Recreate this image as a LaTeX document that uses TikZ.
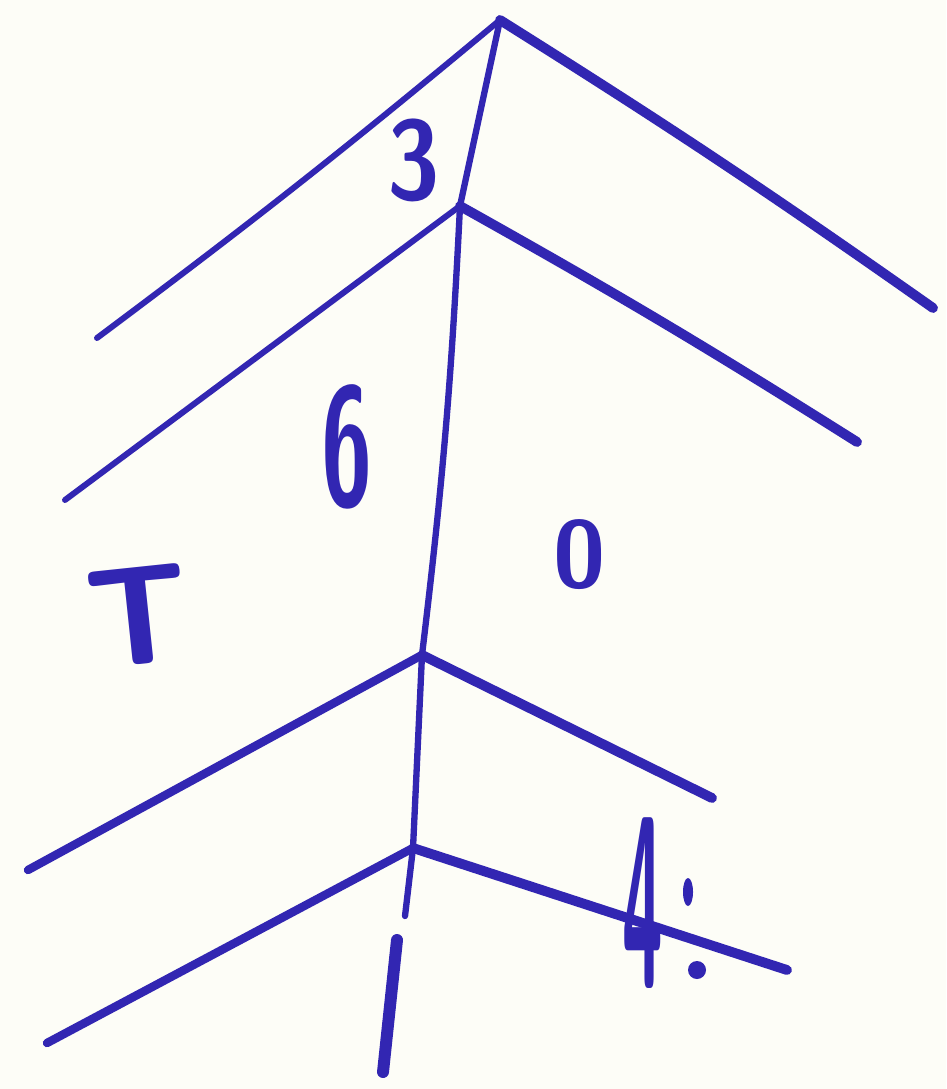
\documentclass[tikz,border=0pt]{standalone}
\usepackage{tikz}
\usetikzlibrary{positioning, calc}
\definecolor{inkblue}{RGB}{50, 38, 178}
\definecolor{paper}{RGB}{253, 253, 247}

\begin{document}
\begin{tikzpicture}[
    x=0.01cm, y=-0.01cm,
    spine/.style={draw=inkblue, line width=1.8pt, line cap=round, line join=round},
    thinbranch/.style={draw=inkblue, line width=1.7pt, line cap=round},
    branch/.style={draw=inkblue, line width=2.4pt, line cap=round},
    heavybranch/.style={draw=inkblue, line width=2.8pt, line cap=round},
    digit/.style={text=inkblue, font=\sffamily\bfseries, inner sep=0pt}
    ]
    \useasboundingbox[fill=paper] (0,0) rectangle (946,1089);

    % Spine points
    \coordinate (apex) at (500,20);
    \coordinate (j3) at (460,206);
    \coordinate (j6) at (422,655);
    \coordinate (j4) at (413,848);
    \coordinate (gaptop) at (405,916);
    \coordinate (gapbot) at (397,940);
    \coordinate (foot) at (383,1072);

    % Branch ends
    \coordinate (ul) at (97,338);
    \coordinate (ur) at (933,308);
    \coordinate (l3) at (65,500);
    \coordinate (r3) at (857,442);
    \coordinate (l6) at (28,870);
    \coordinate (r6) at (712,798);
    \coordinate (l4) at (47,1043);
    \coordinate (r4) at (787,970);

    % Spine
    \draw[spine] (apex) -- (j3);
    \draw[spine] (j3) to[bend left=2] (j6);
    \draw[spine] (j6) -- (j4) -- (gaptop);
    \draw[spine, line width=3.4pt] (gapbot) -- (foot);

    % Branches
    \draw[thinbranch] (apex) to[bend left=1.5] (ul);
    \draw[heavybranch] (apex) to[bend left=1.5] (ur);
    \draw[thinbranch] (j3) -- (l3);
    \draw[heavybranch] (j3) to[bend left=1.5] (r3);
    \draw[branch] (j6) -- (l6);
    \draw[heavybranch] (j6) -- (r6);
    \draw[branch] (j4) -- (l4);
    \draw[heavybranch] (j4) -- (r4);

    % Labels
    \node[digit] (three) at (414,160) {\fontsize{32}{32}\selectfont\scalebox{0.85}[1]{3}};
    \node[digit] (six) at (347,447) {\fontsize{48}{48}\selectfont\scalebox{0.55}[1]{6}};
    \node[digit] (zero) at (580,555) {\fontsize{27}{27}\selectfont 0};
    \node[digit, rotate=6] (tee) at (139,616) {\fontsize{40}{40}\selectfont T};
    \node[digit] (four) at (643,903) {\fontsize{70}{70}\selectfont\scalebox{0.3}[1]{4}};

    % Marks beside the 4
    \fill[inkblue] (688,892) ellipse [x radius=0.05cm, y radius=0.14cm];
    \fill[inkblue] (697,970) circle [radius=0.09cm];
\end{tikzpicture}
\end{document}
